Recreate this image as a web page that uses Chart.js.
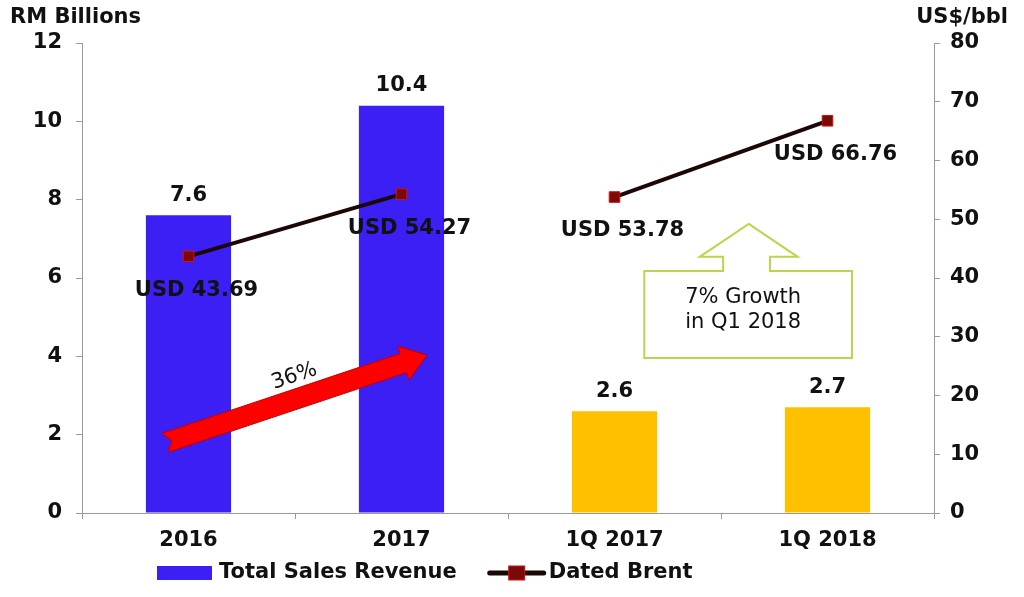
<!DOCTYPE html>
<html><head><meta charset="utf-8">
<script src="https://cdn.jsdelivr.net/npm/chart.js@4"></script>
<style>html,body{margin:0;padding:0;background:#fff;}#wrap{width:1024px;height:597px;}</style>
</head><body><div id="wrap"><canvas id="c" width="1024" height="597"></canvas></div>
<script>
// ---- data ----
const categories = ['2016', '2017', '1Q 2017', '1Q 2018'];
const annualRevenue = [7.6, 10.4, null, null];      // RM billions
const quarterRevenue = [null, null, 2.6, 2.7];      // RM billions
const datedBrent = [43.69, 54.27, 53.78, 66.76];    // US$/bbl
const leftTicks = [0, 2, 4, 6, 8, 10, 12];
const rightTicks = [0, 10, 20, 30, 40, 50, 60, 70, 80];
const growthArrowText = '36%';
const calloutLines = ['7% Growth', 'in Q1 2018'];

// ---- style ----
const FONT = 'DejaVu Sans';
const BLUE = '#3b1ff4';
const YELLOW = '#ffc000';
const LINE = '#1c0707';
const MARK = '#7a0a0a';
const MARK_EDGE = '#d81010';
const AXIS = '#9a9a9a';
const TXT = '#111';
const GREEN = '#c0d24e';

Chart.defaults.font.family = FONT;

const annotate = {
  id: 'annotate',
  afterDatasetsDraw(chart) {
    const ctx = chart.ctx;
    const x = chart.scales.x, y = chart.scales.y, y1 = chart.scales.y1;
    ctx.save();
    // bar value labels
    ctx.fillStyle = TXT;
    ctx.font = 'bold 21px ' + FONT;
    ctx.textAlign = 'center';
    ctx.textBaseline = 'middle';
    [0, 1].forEach(di => {
      const ds = chart.data.datasets[di];
      chart.getDatasetMeta(di).data.forEach((bar, i) => {
        const v = ds.data[i];
        if (v === null || v === undefined) return;
        ctx.fillText(v.toFixed(1), bar.x, bar.y - 20);
      });
    });
    // brent labels
    chart.getDatasetMeta(2).data.forEach((pt, i) => {
      ctx.fillText('USD ' + datedBrent[i].toFixed(2), pt.x + 8, pt.y + 34);
    });

    // red growth arrow (left axis coords)
    const T = {x: x.getPixelForValue(-0.11), y: y.getPixelForValue(1.79)};
    const P = {x: x.getPixelForValue(1.12), y: y.getPixelForValue(4.03)};
    const dx = P.x - T.x, dy = P.y - T.y, L = Math.hypot(dx, dy);
    const u = {x: dx / L, y: dy / L}, n = {x: -u.y, y: u.x};
    const sh = 10, hh = 18, hl = 25, notch = 7;
    const S = {x: P.x - u.x * hl, y: P.y - u.y * hl};
    const pt = (b, a, s) => [b.x + n.x * s + u.x * a, b.y + n.y * s + u.y * a];
    const poly = [pt(T, notch, 0), pt(T, 0, sh), pt(S, 0, sh), pt(S, 0, hh), [P.x, P.y], pt(S, 0, -hh), pt(S, 0, -sh), pt(T, 0, -sh)];
    ctx.beginPath();
    poly.forEach((p, i) => i ? ctx.lineTo(p[0], p[1]) : ctx.moveTo(p[0], p[1]));
    ctx.closePath();
    ctx.fillStyle = '#ff0000';
    ctx.fill();
    ctx.strokeStyle = '#c00000';
    ctx.lineWidth = 1;
    ctx.stroke();
    // 36% text
    const mx = T.x + dx * 0.52 - n.x * 22, my = T.y + dy * 0.52 - n.y * 22;
    ctx.save();
    ctx.translate(mx, my);
    ctx.rotate(Math.atan2(dy, dx));
    ctx.fillStyle = TXT;
    ctx.font = '500 21px ' + FONT;
    ctx.fillText(growthArrowText, 0, 0);
    ctx.restore();

    // green callout (right axis coords)
    const X = v => x.getPixelForValue(v), Y = v => y1.getPixelForValue(v);
    const bl = 2.14, br = 3.115, bt = 41.2, bb = 26.4;
    const shl = 2.51, shr = 2.73, hb = 43.6, hlx = 2.40, hrx = 2.86, tipx = 2.63, tipy = 49.2;
    const cp = [[tipx, tipy], [hrx, hb], [shr, hb], [shr, bt], [br, bt], [br, bb], [bl, bb], [bl, bt], [shl, bt], [shl, hb], [hlx, hb]];
    ctx.beginPath();
    cp.forEach((p, i) => i ? ctx.lineTo(X(p[0]), Y(p[1])) : ctx.moveTo(X(p[0]), Y(p[1])));
    ctx.closePath();
    ctx.fillStyle = '#fff';
    ctx.fill();
    ctx.strokeStyle = GREEN;
    ctx.lineWidth = 2;
    ctx.stroke();
    ctx.fillStyle = TXT;
    ctx.font = '500 21px ' + FONT;
    const cx = (X(bl) + X(br)) / 2 - 5;
    ctx.fillText(calloutLines[0], cx, Y(bt) + 27);
    ctx.fillText(calloutLines[1], cx, Y(bt) + 52);
    ctx.restore();
  },
  afterDraw(chart) {
    const ctx = chart.ctx;
    ctx.save();
    // axis titles
    ctx.fillStyle = TXT;
    ctx.font = 'bold 21px ' + FONT;
    ctx.textBaseline = 'middle';
    ctx.textAlign = 'left';
    ctx.fillText('RM Billions', 10, 18);
    ctx.textAlign = 'right';
    ctx.fillText('US$/bbl', 1008, 18);

    // legend
    const ly = 573;
    ctx.textAlign = 'left';
    const items = [
      {text: chart.data.datasets[0].label, kind: 'box'},
      {text: chart.data.datasets[2].label, kind: 'line'}
    ];
    let lx = 157;
    items.forEach(it => {
      if (it.kind === 'box') {
        ctx.fillStyle = BLUE;
        ctx.fillRect(lx, ly - 7, 55, 14);
      } else {
        ctx.strokeStyle = LINE;
        ctx.lineWidth = 5;
        ctx.lineCap = 'round';
        ctx.beginPath();
        ctx.moveTo(lx + 3, ly);
        ctx.lineTo(lx + 57, ly);
        ctx.stroke();
        ctx.fillStyle = MARK;
        ctx.strokeStyle = MARK_EDGE;
        ctx.lineWidth = 1;
        ctx.fillRect(lx + 22, ly - 7, 16, 14);
        ctx.strokeRect(lx + 22, ly - 7, 16, 14);
      }
      ctx.fillStyle = TXT;
      ctx.fillText(it.text, lx + 62, ly);
      lx += 62 + ctx.measureText(it.text).width + 30;
    });
    ctx.restore();
  }
};

new Chart(document.getElementById('c'), {
  data: {
    labels: categories,
    datasets: [
      {type: 'bar', label: 'Total Sales Revenue', data: annualRevenue, backgroundColor: BLUE, yAxisID: 'y', grouped: false, barPercentage: 0.4, categoryPercentage: 1, order: 2},
      {type: 'bar', label: 'Quarterly Sales Revenue', data: quarterRevenue, backgroundColor: YELLOW, yAxisID: 'y', grouped: false, barPercentage: 0.4, categoryPercentage: 1, order: 2},
      {type: 'line', label: 'Dated Brent', data: datedBrent, yAxisID: 'y1', borderColor: LINE, borderWidth: 4,
       pointStyle: 'rect', pointRadius: 7.5, pointBackgroundColor: MARK, pointBorderColor: MARK_EDGE, pointBorderWidth: 1,
       segment: {borderColor: c => c.p0DataIndex === 1 ? 'rgba(0,0,0,0)' : LINE}, order: 1}
    ]
  },
  options: {
    responsive: false,
    animation: false,
    devicePixelRatio: 1,
    layout: {padding: {top: 43, left: 0, right: 0, bottom: 46}},
    plugins: {
      legend: {display: false},
      tooltip: {enabled: false}
    },
    scales: {
      x: {
        grid: {drawOnChartArea: false, drawTicks: true, tickLength: 6, color: AXIS},
        border: {color: AXIS},
        ticks: {color: TXT, font: {size: 21, weight: 'bold'}, padding: 9},
        afterFit: s => { s.height = 38; }
      },
      y: {
        position: 'left', min: 0, max: 12,
        afterBuildTicks: s => { s.ticks = leftTicks.map(v => ({value: v})); },
        grid: {drawOnChartArea: false, drawTicks: true, tickLength: 6, color: AXIS},
        border: {color: AXIS},
        ticks: {color: TXT, font: {size: 21, weight: 'bold'}, padding: 14},
        afterFit: s => { s.width = 82; }
      },
      y1: {
        position: 'right', min: 0, max: 80,
        afterBuildTicks: s => { s.ticks = rightTicks.map(v => ({value: v})); },
        grid: {drawOnChartArea: false, drawTicks: true, tickLength: 6, color: AXIS},
        border: {color: AXIS},
        ticks: {color: TXT, font: {size: 21, weight: 'bold'}, padding: 10},
        afterFit: s => { s.width = 90; }
      }
    }
  },
  plugins: [annotate]
});
</script>
</body></html>
